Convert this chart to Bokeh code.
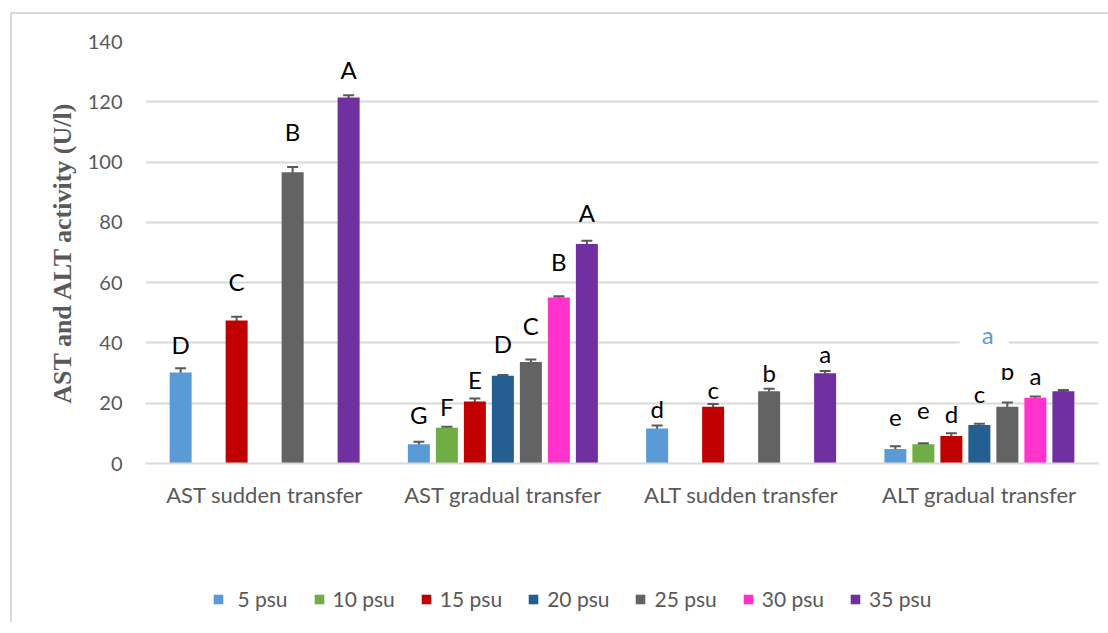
import math
from bokeh.plotting import figure
from bokeh.layouts import column
from bokeh.models import (ColumnDataSource, Range1d, FixedTicker, Whisker, TeeHead,
                          Legend, LegendItem, Label)
from bokeh.core.properties import value
from bokeh.embed import file_html
from bokeh.resources import INLINE

nan = float("nan")

groups = ["AST sudden transfer", "AST gradual transfer", "ALT sudden transfer", "ALT gradual transfer"]
series = [" 5 psu", "10 psu", "15 psu", "20 psu", "25 psu", "30 psu", "35 psu"]
colors = ["#5B9BD5", "#70AD47", "#C00000", "#255E91", "#636363", "#FF33CC", "#7030A0"]

v5 = [30.2, 6.4, 11.6, 4.8]
v10 = [nan, 11.9, nan, 6.4]
v15 = [47.4, 20.6, 18.8, 9.1]
v20 = [nan, 29.1, nan, 12.8]
v25 = [96.6, 33.7, 24.0, 18.8]
v30 = [nan, 55.1, nan, 21.8]
v35 = [121.4, 72.8, 29.9, 24.0]

e5 = [1.4, 0.8, 1.0, 0.9]
e10 = [nan, 0.3, nan, 0.3]
e15 = [1.3, 1.0, 0.9, 0.9]
e20 = [nan, 0.3, nan, 0.4]
e25 = [1.8, 0.8, 0.8, 1.4]
e30 = [nan, 0.4, nan, 0.4]
e35 = [0.8, 1.1, 0.8, 0.4]

l5 = ["D", "G", "d", "e"]
l10 = ["", "F", "", "e"]
l15 = ["C", "E", "c", "d"]
l20 = ["", "D", "", "c"]
l25 = ["B", "C", "b", "b"]
l30 = ["", "B", "", "a"]
l35 = ["A", "A", "a", ""]

extra_letter = "a"

y_ticks = [0, 20, 40, 60, 80, 100, 120, 140]

values = [v5, v10, v15, v20, v25, v30, v35]
errors = [e5, e10, e15, e20, e25, e30, e35]
letters = [l5, l10, l15, l20, l25, l30, l35]

# label placement offsets above the error bar (pixels) - styling
label_dy = [
    [24, 27, 17, 29],
    [0, 20, 0, 33],
    [35, 19, 15, 20],
    [0, 31, 0, 30],
    [35, 34, 16, 32],
    [0, 35, 0, 21],
    [26, 28, 17, 0],
]

FONT = "Lato"
GRAY = "#595959"
GRID = "#D9D9D9"

W = 1096
p = figure(width=W, height=520, output_backend="svg", toolbar_location=None,
           x_range=Range1d(-0.5, 3.5), y_range=Range1d(0, 140),
           min_border_left=133, min_border_right=10, min_border_top=27, min_border_bottom=71)
p.outline_line_color = None
p.background_fill_color = "white"
p.border_fill_color = "white"

step = 28 / 238.25
bw = 22 / 238.25

for j, (name, col) in enumerate(zip(series, colors)):
    xs = [i + (j - 3) * step for i in range(len(groups))]
    vals = values[j]
    errs = errors[j]
    src = ColumnDataSource(dict(
        x=xs, top=vals,
        upper=[v + e for v, e in zip(vals, errs)],
        lower=[v - e for v, e in zip(vals, errs)],
        lab=letters[j],
        ly=[(v + e) if not math.isnan(v) else 0 for v, e in zip(vals, errs)],
        dy=[-d for d in label_dy[j]],
    ))
    p.vbar(x="x", top="top", bottom=0, width=bw, source=src,
           fill_color=col, line_color=None)
    w = Whisker(source=src, base="x", upper="upper", lower="lower", dimension="height",
                line_color=GRAY, line_width=2,
                upper_head=TeeHead(size=11, line_color=GRAY, line_width=2),
                lower_head=TeeHead(size=11, line_color=GRAY, line_width=2))
    p.add_layout(w)
    p.text(x="x", y="ly", text="lab", y_offset="dy", source=src,
           text_align="center", text_baseline="middle",
           text_font=value(FONT), text_font_size="24px", text_color="black")

extra = Label(x=3.02, y=40.6, text=extra_letter, text_align="center", text_baseline="middle",
              text_font=FONT, text_font_size="24px", text_color="#5B9BD5",
              background_fill_color="white",
              padding=dict(left=22, right=15, top=6, bottom=19))
p.add_layout(extra)

# axes
p.xaxis.ticker = FixedTicker(ticks=list(range(len(groups))))
p.xaxis.major_label_overrides = {i: g for i, g in enumerate(groups)}
p.xaxis.major_tick_line_color = None
p.xaxis.minor_tick_line_color = None
p.xaxis.axis_line_color = GRID
p.xaxis.axis_line_width = 2
p.xaxis.major_label_text_font = FONT
p.xaxis.major_label_text_font_size = "22px"
p.xaxis.major_label_text_color = GRAY
p.xaxis.major_label_standoff = 11

p.yaxis.ticker = FixedTicker(ticks=y_ticks)
p.yaxis.axis_line_color = None
p.yaxis.major_tick_line_color = None
p.yaxis.minor_tick_line_color = None
p.yaxis.major_label_text_font = FONT
p.yaxis.major_label_text_font_size = "20px"
p.yaxis.major_label_text_color = GRAY
p.yaxis.major_label_standoff = 17
p.yaxis.axis_label = "AST and ALT activity (U/l)"
p.yaxis.axis_label_text_font = "Liberation Serif"
p.yaxis.axis_label_text_font_style = "bold"
p.yaxis.axis_label_text_font_size = "26px"
p.yaxis.axis_label_text_color = GRAY
p.yaxis.axis_label_standoff = 8

p.xgrid.grid_line_color = None
p.ygrid.grid_line_color = GRID
p.ygrid.grid_line_width = 2

# legend strip below the chart (its frame is aligned with the chart's frame)
pl = figure(width=W, height=88, output_backend="svg", toolbar_location=None,
            x_range=Range1d(0, 1), y_range=Range1d(0, 1),
            x_axis_type=None, y_axis_type=None,
            min_border_left=133, min_border_top=53, min_border_right=10, min_border_bottom=0)
pl.outline_line_color = None
pl.background_fill_color = "white"
pl.border_fill_color = "white"
items = []
for name, col in zip(series, colors):
    r = pl.vbar(x=[0], top=[0], bottom=0, width=0.01, fill_color=col, line_color=None)
    items.append(LegendItem(label=name, renderers=[r]))
legend = Legend(items=items, orientation="horizontal", location=(67, 11),
                glyph_width=12, glyph_height=12, label_height=24, label_standoff=8,
                spacing=25, padding=0, margin=0,
                border_line_color=None, background_fill_alpha=0,
                label_text_font=FONT, label_text_font_size="21px", label_text_color=GRAY)
pl.add_layout(legend)

layout = column(p, pl, spacing=0)
layout.styles = {"border-left": "2px solid #D9D9D9", "border-top": "2px solid #D9D9D9",
                 "margin-left": "10px", "margin-top": "12px"}

open("out.html", "w").write(file_html(layout, INLINE))
